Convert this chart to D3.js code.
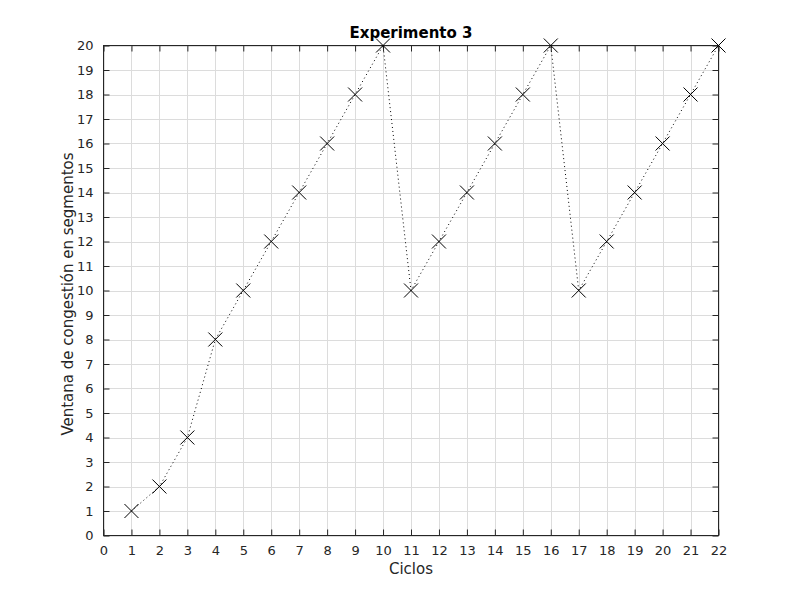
<!DOCTYPE html>
<html><head><meta charset="utf-8">
<script src="https://cdn.jsdelivr.net/npm/d3@7"></script>
<style>body{margin:0;background:#fff;} svg{display:block;font-family:"DejaVu Sans";}</style>
</head><body>
<svg id="c" width="795" height="602"></svg>
<script>
const xValues = [1,2,3,4,5,6,7,8,9,10,11,12,13,14,15,16,17,18,19,20,21,22];
const yValues = [1,2,4,8,10,12,14,16,18,20,10,12,14,16,18,20,10,12,14,16,18,20];
const xTicks = d3.range(0,23);
const yTicks = d3.range(0,21);
const title = "Experimento 3";
const xLabel = "Ciclos";
const yLabel = "Ventana de congestión en segmentos";

const svg = d3.select("#c");
const L=103.5, R=718.5, T=45.5, B=535.5;
const x = d3.scaleLinear().domain([0,22]).range([L,R]);
const y = d3.scaleLinear().domain([0,20]).range([B,T]);

const g = svg.append("g");
// grid
g.selectAll(".gx").data(xTicks).join("line")
 .attr("x1",d=>Math.round(x(d))+0.5).attr("x2",d=>Math.round(x(d))+0.5).attr("y1",T).attr("y2",B)
 .attr("stroke","#dcdcdc").attr("stroke-width",1);
g.selectAll(".gy").data(yTicks).join("line")
 .attr("y1",d=>Math.round(y(d))+0.5).attr("y2",d=>Math.round(y(d))+0.5).attr("x1",L).attr("x2",R)
 .attr("stroke","#dcdcdc").attr("stroke-width",1);

// axes with inward ticks
const tl=6;
const ax = d3.axisBottom(x).tickValues(xTicks).tickSizeInner(-tl).tickSizeOuter(0).tickPadding(10);
const ay = d3.axisLeft(y).tickValues(yTicks).tickSizeInner(-tl).tickSizeOuter(0).tickPadding(10);
const axT = d3.axisTop(x).tickValues(xTicks).tickSizeInner(-tl).tickSizeOuter(0).tickFormat("");
const ayR = d3.axisRight(y).tickValues(yTicks).tickSizeInner(-tl).tickSizeOuter(0).tickFormat("");
function style(sel){
  sel.selectAll("path").remove();
  sel.selectAll("line").attr("stroke","#262626");
  sel.selectAll("text").attr("fill","#262626").style("font-size","13px").style("font-family","DejaVu Sans");
}
svg.append("g").attr("transform",`translate(0,${B})`).call(ax).call(style);
svg.append("g").attr("transform",`translate(${L},0)`).call(ay).call(style);
svg.append("g").attr("transform",`translate(0,${T})`).call(axT).call(style);
svg.append("g").attr("transform",`translate(${R},0)`).call(ayR).call(style);
svg.append("rect").attr("x",L).attr("y",T).attr("width",R-L).attr("height",B-T)
 .attr("fill","none").attr("stroke","#262626").attr("stroke-width",1);

// line
const pts = xValues.map((d,i)=>[d,yValues[i]]);
svg.append("path").datum(pts)
 .attr("d",d3.line().x(d=>x(d[0])).y(d=>y(d[1])))
 .attr("fill","none").attr("stroke","#000").attr("stroke-width",1).attr("stroke-dasharray","1,3");
// markers
const s=7;
svg.append("g").selectAll("path").data(pts).join("path")
 .attr("d",d=>{const cx=x(d[0]),cy=y(d[1]);return `M${cx-s},${cy-s}L${cx+s},${cy+s}M${cx-s},${cy+s}L${cx+s},${cy-s}`;})
 .attr("stroke","#000").attr("stroke-width",1).attr("fill","none");

// labels
svg.append("text").attr("x",411).attr("y",38).attr("text-anchor","middle")
 .style("font-size","15px").style("font-weight","bold").attr("fill","#000").text(title);
svg.append("text").attr("x",(L+R)/2).attr("y",574).attr("text-anchor","middle")
 .style("font-size","15px").attr("fill","#262626").text(xLabel);
svg.append("text").attr("transform",`translate(73,294) rotate(-90)`).attr("text-anchor","middle")
 .style("font-size","15px").attr("fill","#262626").text(yLabel);
</script>
</body></html>
